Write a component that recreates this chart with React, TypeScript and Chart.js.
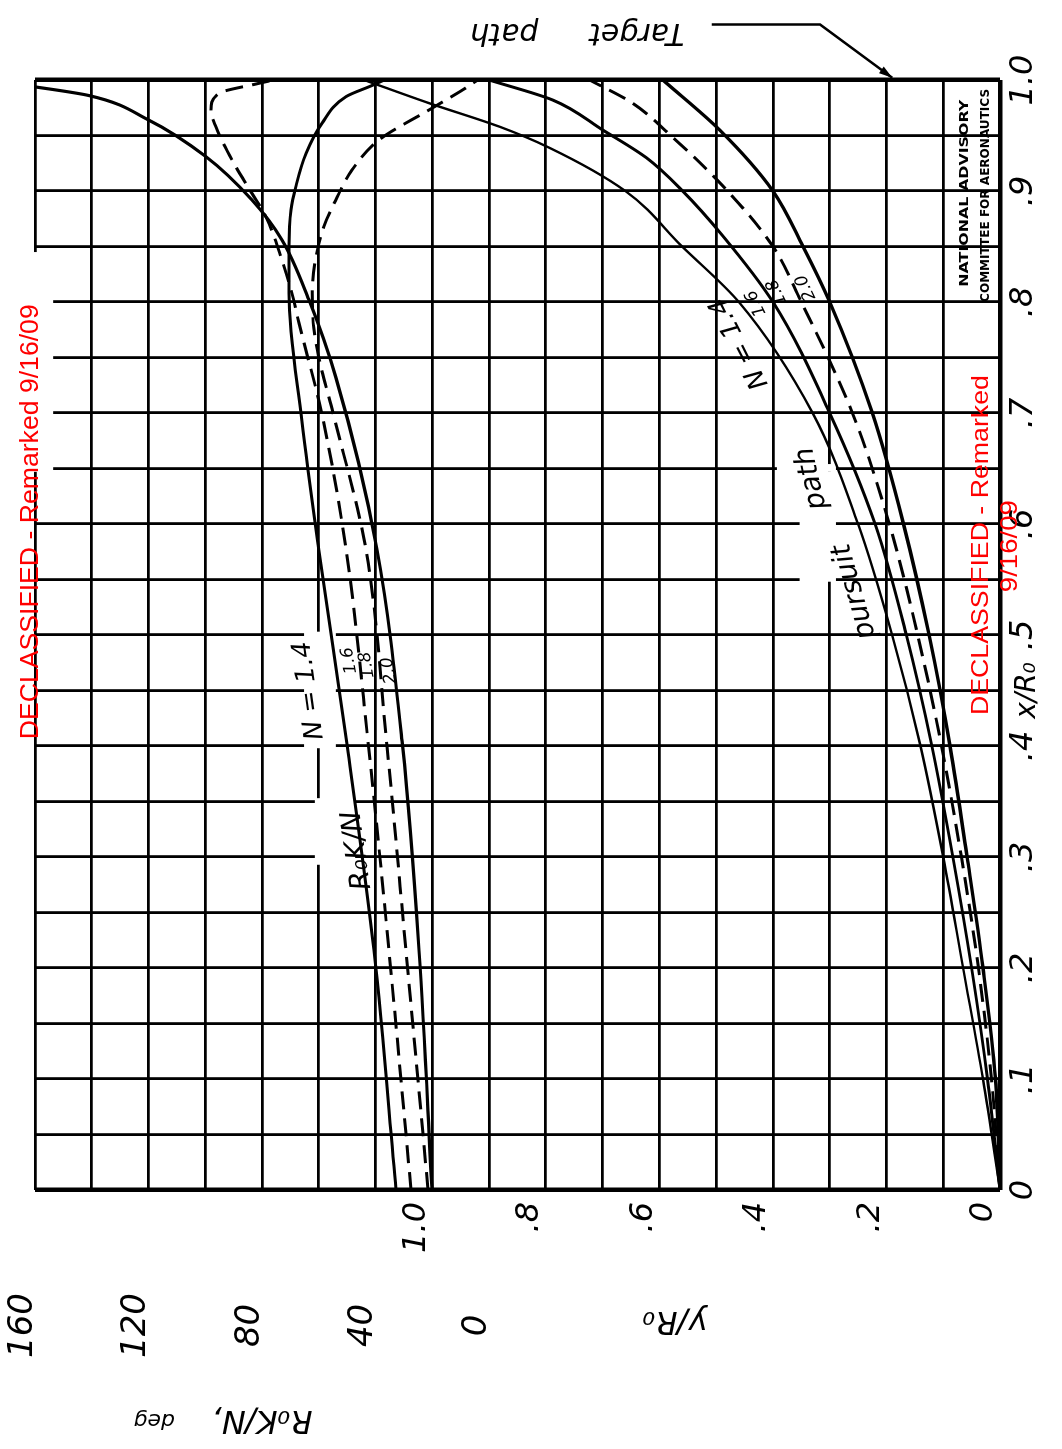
import { useEffect, useRef } from 'react';
import { Chart, registerables } from 'chart.js';
Chart.register(...registerables);

// ---------------- data ----------------
// Pursuit paths: y/R0 against x/R0
const pursuitX14 = [0, 0.1, 0.2, 0.3, 0.4, 0.5, 0.6, 0.7, 0.8, 0.85, 0.9, 0.939, 0.958, 0.979, 1.0];
const pursuitY14 = [0, 0.03, 0.065, 0.1, 0.14, 0.19, 0.25, 0.33, 0.46, 0.56, 0.66, 0.794, 0.882, 1.005, 1.12];
const pursuitX16 = [0, 0.1, 0.2, 0.3, 0.4, 0.5, 0.6, 0.7, 0.8, 0.86, 0.9, 0.93, 0.955, 0.982, 1.0];
const pursuitY16 = [0, 0.022, 0.05, 0.083, 0.12, 0.165, 0.22, 0.3, 0.4, 0.489, 0.559, 0.623, 0.7, 0.788, 0.9];
const pursuitX18 = [0, 0.1, 0.2, 0.3, 0.4, 0.5, 0.6, 0.7, 0.8, 0.85, 0.9, 0.95, 0.98, 1.0];
const pursuitY18 = [0, 0.015, 0.038, 0.068, 0.103, 0.145, 0.195, 0.26, 0.35, 0.4, 0.48, 0.58, 0.65, 0.723];
const pursuitX20 = [0, 0.1, 0.2, 0.3, 0.4, 0.5, 0.6, 0.7, 0.8, 0.85, 0.9, 0.955, 1.0];
const pursuitY20 = [0, 0.008, 0.03, 0.058, 0.088, 0.125, 0.17, 0.225, 0.3, 0.347, 0.4, 0.494, 0.594];

// R0K/N (deg) against x/R0
const rkX14 = [0, 0.216, 0.4, 0.577, 0.694, 0.808, 0.85, 0.883, 0.904, 0.934, 0.961, 0.985, 0.995, 1.0];
const rkDeg14 = [32.8, 40.6, 50, 60, 66, 70.5, 70.5, 69.8, 68.1, 64.5, 58.9, 50.4, 41.3, 37];
const rkX16 = [0, 0.216, 0.4, 0.577, 0.7, 0.781, 0.808, 0.838, 0.877, 0.898, 0.928, 0.958, 0.973, 0.988, 0.997, 1.0];
const rkDeg16 = [27.5, 35.3, 42.5, 50.4, 59, 67, 69.5, 73, 78.7, 83.6, 90.6, 96.3, 98, 95.2, 81.1, 76];
const rkX18 = [0, 0.216, 0.4, 0.577, 0.7, 0.75, 0.777, 0.808, 0.838, 0.868, 0.892, 0.919, 0.946, 0.973, 0.99, 1.0];
const rkDeg18 = [21.5, 29.3, 36, 43.4, 55, 60, 61.8, 62.3, 61.2, 58.2, 54, 48.3, 38.8, 21.2, 10, 4];
const rkX20 = [0, 0.216, 0.4, 0.577, 0.732, 0.802, 0.856, 0.892, 0.931, 0.964, 0.986, 0.994, 1.0];
const rkDeg20 = [20.1, 24.7, 30.5, 39.5, 54, 63.5, 73, 83.6, 99.8, 120, 141, 160.5, 177];

// tick labels
const xTickValues = [0, 0.1, 0.2, 0.3, 0.4, 0.5, 0.6, 0.7, 0.8, 0.9, 1.0];
const xTickLabels = ['0', '.1', '.2', '.3', '.4', '.5', '.6', '.7', '.8', '.9', '1.0'];
const yTickValues = [0, 0.2, 0.4, 0.6, 0.8, 1.0];
const yTickLabels = ['0', '.2', '.4', '.6', '.8', '1.0'];
const degTickValues = [0, 40, 80, 120, 160];
const degTickLabels = ['0', '40', '80', '120', '160'];

// ---------------- helpers ----------------
const CW = 1449;
const CH = 1062;
const HAND = '"DejaVu Sans", sans-serif';

function labelFor(v: number, values: number[], labels: string[]) {
  const i = values.findIndex((t) => Math.abs(t - v) < 1e-6);
  return i >= 0 ? labels[i] : '';
}

function pts(xs: number[], ys: number[]) {
  return xs.map((x, i) => ({ x, y: ys[i] }));
}

function line(data: { x: number; y: number }[], axis: string, width: number, dash: number[] = []) {
  return {
    data,
    yAxisID: axis,
    borderColor: '#000',
    borderWidth: width,
    borderDash: dash,
    borderCapStyle: 'butt',
    pointRadius: 0,
    fill: false,
    cubicInterpolationMode: 'monotone',
  };
}

function txt(
  ctx: CanvasRenderingContext2D,
  s: string,
  u: number,
  v: number,
  font: string,
  rot = 0,
  color = '#000',
  width = 0
) {
  ctx.save();
  ctx.translate(u, v);
  if (rot) ctx.rotate((rot * Math.PI) / 180);
  ctx.font = font;
  ctx.fillStyle = color;
  ctx.textAlign = 'center';
  ctx.textBaseline = 'middle';
  if (width) {
    const m = ctx.measureText(s).width;
    ctx.scale(width / m, 1);
  }
  ctx.fillText(s, 0, 0);
  ctx.restore();
}

// gridline erasures around hand lettering: [x0, x1, y0, y1] in data units
const erasures = [
  [0.647, 0.845, 1.668, 1.75],
  [0.293, 0.353, 1.136, 1.207],
  [0.398, 0.503, 1.17, 1.226],
  [0.647, 0.654, 0.289, 0.393],
  [0.548, 0.647, 0.289, 0.353],
];

const annot = {
  id: 'annot',
  beforeDraw(chart: any) {
    const ctx = chart.ctx;
    ctx.save();
    ctx.fillStyle = '#fff';
    ctx.fillRect(0, 0, chart.width, chart.height);
    ctx.restore();
  },
  beforeDatasetsDraw(chart: any) {
    const ctx = chart.ctx;
    const xs = chart.scales.x;
    const ys = chart.scales.y;
    ctx.save();
    ctx.fillStyle = '#fff';
    erasures.forEach(([x0, x1, y0, y1]) => {
      const u0 = xs.getPixelForValue(x0);
      const u1 = xs.getPixelForValue(x1);
      const v0 = ys.getPixelForValue(y1);
      const v1 = ys.getPixelForValue(y0);
      ctx.fillRect(u0, v0, u1 - u0, v1 - v0);
    });
    ctx.restore();
  },
  afterDraw(chart: any) {
    const ctx: CanvasRenderingContext2D = chart.ctx;
    const xs = chart.scales.x;
    const ys = chart.scales.y;
    const P = (xr: number, yr: number) => [xs.getPixelForValue(xr), ys.getPixelForValue(yr)];
    const T = (s: string, xr: number, yr: number, font: string, rot = 0, color = '#000', width = 0) => {
      const [u, v] = P(xr, yr);
      txt(ctx, s, u, v, font, rot, color, width);
    };

    // target path annotation
    T('Target', 1.043, 0.64, `italic 30px ${HAND}`, -90);
    T('path', 1.043, 0.873, `italic 30px ${HAND}`, -90);
    const a = P(1.05, 0.508);
    const b = P(1.05, 0.317);
    const c = P(1.002, 0.19);
    ctx.save();
    ctx.strokeStyle = '#000';
    ctx.lineWidth = 2.5;
    ctx.beginPath();
    ctx.moveTo(a[0], a[1]);
    ctx.lineTo(b[0], b[1]);
    ctx.lineTo(c[0], c[1]);
    ctx.stroke();
    const ang = Math.atan2(c[1] - b[1], c[0] - b[0]);
    ctx.beginPath();
    ctx.moveTo(c[0], c[1]);
    ctx.lineTo(c[0] - 14 * Math.cos(ang - 0.3), c[1] - 14 * Math.sin(ang - 0.3));
    ctx.lineTo(c[0] - 14 * Math.cos(ang + 0.3), c[1] - 14 * Math.sin(ang + 0.3));
    ctx.closePath();
    ctx.fillStyle = '#000';
    ctx.fill();
    ctx.restore();

    // NACA stamp
    T('NATIONAL ADVISORY', 0.898, 0.062, `bold 13px ${HAND}`, 0, '#000', 187);
    T('COMMITTEE FOR AERONAUTICS', 0.896, 0.026, `bold 13px ${HAND}`, 0, '#000', 213);

    // curve labels, R0K/N family
    T('R\u2080K/N', 0.306, 1.132, `italic 28px ${HAND}`, -8);
    T('N = 1.4', 0.45, 1.217, `italic 26px ${HAND}`, -8);
    T('1.6', 0.477, 1.146, `italic 17px ${HAND}`, -10);
    T('1.8', 0.473, 1.115, `italic 17px ${HAND}`, -10);
    T('2.0', 0.468, 1.076, `italic 17px ${HAND}`, -10);

    // curve labels, pursuit family
    T('N = 1.4', 0.763, 0.459, `italic 26px ${HAND}`, -27);
    T('1.6', 0.799, 0.43, `italic 17px ${HAND}`, -25);
    T('1.8', 0.809, 0.393, `italic 17px ${HAND}`, -25);
    T('2.0', 0.813, 0.342, `italic 17px ${HAND}`, -25);
    T('path', 0.641, 0.332, `italic 28px ${HAND}`, -13);
    T('pursuit', 0.539, 0.256, `italic 28px ${HAND}`, -16);

    // axis titles
    T('x/R\u2080', 0.45, -0.048, `italic 28px ${HAND}`, 0);
    T('y/R\u2080', -0.117, 0.573, `italic 32px ${HAND}`, -90);
    T('R\u2080K/N,', -0.207, 1.3, `italic 32px ${HAND}`, -90);
    T('deg', -0.207, 1.49, `italic 22px ${HAND}`, -90);

    // red remark stamps
    T('DECLASSIFIED - Remarked 9/16/09', 0.602, 1.707, '25px "Liberation Sans", Arial, sans-serif', 0, '#ff0000', 435);
    T('DECLASSIFIED - Remarked', 0.581, 0.0335, '24px "Liberation Sans", Arial, sans-serif', 0, '#ff0000', 340);
    T('9/16/09', 0.58, -0.019, '24px "Liberation Sans", Arial, sans-serif', 0, '#ff0000', 92);
  },
};

export default function App() {
  const ref = useRef<HTMLCanvasElement>(null);

  useEffect(() => {
    const canvas = ref.current;
    if (!canvas) return;
    const chart = new Chart(canvas, {
      type: 'line',
      data: {
        datasets: [
          line(pts(pursuitX14, pursuitY14), 'y', 2.4),
          line(pts(pursuitX16, pursuitY16), 'y', 3),
          line(pts(pursuitX18, pursuitY18), 'y', 3, [18, 9]),
          line(pts(pursuitX20, pursuitY20), 'y', 3.4),
          line(pts(rkX14, rkDeg14), 'deg', 3),
          line(pts(rkX16, rkDeg16), 'deg', 3, [18, 9]),
          line(pts(rkX18, rkDeg18), 'deg', 3, [18, 9]),
          line(pts(rkX20, rkDeg20), 'deg', 3.2),
        ] as any,
      },
      options: {
        animation: false,
        responsive: false,
        devicePixelRatio: 1,
        events: [],
        layout: { padding: { left: 0, top: 35, right: 80, bottom: 0 } },
        plugins: { legend: { display: false }, tooltip: { enabled: false }, title: { display: false } },
        scales: {
          x: {
            type: 'linear',
            position: 'bottom',
            min: 0,
            max: 1,
            ticks: {
              stepSize: 0.05,
              autoSkip: false,
              maxRotation: 0,
              minRotation: 0,
              padding: 4,
              color: '#000',
              font: { family: HAND, style: 'italic', size: 32 },
              callback: (v: any) => labelFor(Number(v), xTickValues, xTickLabels),
            },
            grid: {
              color: '#000',
              drawTicks: false,
              lineWidth: (c: any) =>
                c.tick && (Math.abs(c.tick.value) < 1e-6 || Math.abs(c.tick.value - 1) < 1e-6) ? 4.5 : 2.8,
            },
            border: { display: false },
            afterFit: (s: any) => {
              s.height = 62;
            },
          },
          y: {
            type: 'linear',
            position: 'left',
            weight: 0,
            min: 0,
            max: 1.7,
            ticks: {
              stepSize: 0.1,
              autoSkip: false,
              padding: 12,
              labelOffset: -16,
              color: '#000',
              font: { family: HAND, style: 'italic', size: 32 },
              callback: (v: any) => labelFor(Number(v), yTickValues, yTickLabels),
            },
            grid: {
              color: '#000',
              drawTicks: false,
              lineWidth: (c: any) => (c.tick && Math.abs(c.tick.value) < 1e-6 ? 4.5 : 2.8),
            },
            border: { display: false },
            afterFit: (s: any) => {
              s.width = 99;
            },
          },
          deg: {
            type: 'linear',
            position: 'left',
            weight: 1,
            min: -180,
            max: 160,
            afterBuildTicks: (s: any) => {
              s.ticks = degTickValues.map((v) => ({ value: v }));
            },
            ticks: {
              autoSkip: false,
              padding: 4,
              crossAlign: 'center',
              labelOffset: -12,
              color: '#000',
              font: { family: HAND, style: 'italic', size: 34 },
              callback: (v: any) => labelFor(Number(v), degTickValues, degTickLabels),
            },
            grid: { display: false, drawTicks: false },
            border: { display: false },
            afterFit: (s: any) => {
              s.width = 160;
            },
          },
        },
      } as any,
      plugins: [annot],
    });
    return () => chart.destroy();
  }, []);

  return (
    <div
      style={{
        position: 'absolute',
        left: 0,
        top: 0,
        width: 1062,
        height: 1449,
        overflow: 'hidden',
        background: '#fff',
      }}
    >
      <canvas
        ref={ref}
        width={CW}
        height={CH}
        style={{
          position: 'absolute',
          left: 0,
          top: 0,
          width: `${CW}px`,
          height: `${CH}px`,
          transform: `translate(0px, ${CW}px) rotate(-90deg)`,
          transformOrigin: '0 0',
        }}
      />
    </div>
  );
}
